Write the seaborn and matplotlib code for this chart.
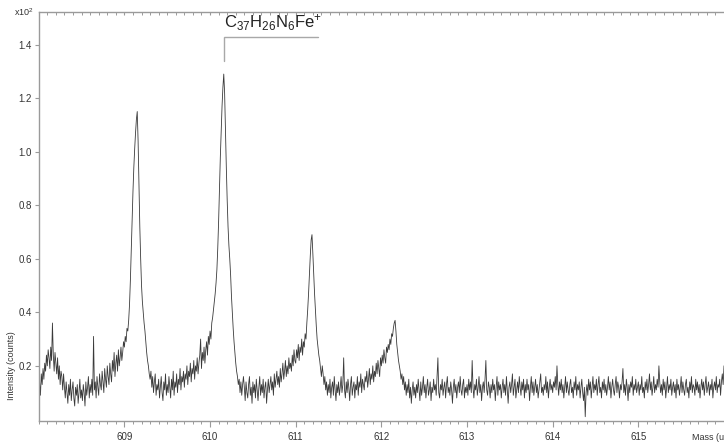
import numpy as np
import pandas as pd
import matplotlib
matplotlib.use("Agg")
import matplotlib.pyplot as plt
from matplotlib.ticker import MultipleLocator, FixedLocator, FuncFormatter
import seaborn as sns

# Spectrum sampling grid (u)
mass_start = 608.0
mass_step = 0.01

# Detector counts per mass unit, 100 channels each (x.00 ... x.99)
counts_608 = [
    11, 14, 9, 17, 13, 19, 15, 21, 18, 24,
    20, 26, 23, 19, 27, 22, 36, 24, 18, 25,
    21, 17, 23, 15, 20, 13, 18, 16, 11, 17,
    12, 8, 14, 10, 6, 13, 9, 15, 7, 11,
    14, 8, 5, 12, 9, 13, 6, 10, 15, 8,
    11, 7, 13, 10, 5, 14, 9, 12, 16, 8,
    13, 10, 15, 9, 31, 11, 14, 8, 16, 12,
    9, 17, 13, 11, 18, 14, 10, 19, 15, 12,
    20, 16, 13, 21, 17, 14, 22, 18, 25, 16,
    21, 24, 18, 26, 20, 23, 27, 22, 25, 29,
]
counts_609 = [
    27, 31, 29, 34, 33, 37, 43, 52, 63, 75,
    85, 94, 101, 107, 112, 115, 104, 88, 72, 60,
    50, 44, 40, 36, 33, 29, 25, 22, 20, 17,
    15, 18, 12, 16, 10, 14, 17, 9, 13, 11,
    15, 8, 12, 16, 10, 7, 14, 11, 17, 9,
    13, 10, 16, 12, 8, 15, 11, 18, 9, 14,
    12, 17, 10, 15, 13, 19, 11, 16, 14, 18,
    12, 17, 15, 20, 13, 18, 16, 21, 14, 19,
    17, 22, 15, 20, 18, 23, 17, 21, 24, 30,
    19, 25, 22, 27, 21, 26, 29, 24, 31, 28,
]
counts_610 = [
    33, 30, 36, 38, 41, 44, 47, 51, 56, 64,
    74, 86, 98, 108, 117, 124, 129, 122, 108, 94,
    82, 72, 65, 60, 54, 46, 40, 34, 29, 25,
    21, 18, 16, 13, 15, 10, 14, 9, 13, 16,
    12, 7, 14, 10, 8, 13, 16, 9, 12, 6,
    14, 10, 13, 8, 15, 11, 7, 12, 16, 9,
    13, 10, 15, 8, 12, 14, 6, 11, 15, 10,
    13, 16, 11, 14, 9, 17, 12, 15, 18, 13,
    16, 12, 19, 14, 17, 21, 15, 18, 22, 16,
    20, 17, 23, 19, 21, 18, 24, 20, 26, 22,
]
counts_611 = [
    21, 26, 23, 28, 22, 27, 25, 30, 24, 29,
    27, 32, 30, 36, 41, 47, 54, 61, 67, 69,
    62, 54, 47, 41, 35, 30, 27, 24, 22, 19,
    16, 20, 17, 13, 16, 11, 14, 9, 13, 10,
    15, 8, 12, 14, 9, 16, 11, 7, 13, 10,
    14, 9, 12, 16, 10, 13, 23, 11, 8, 14,
    10, 15, 12, 7, 13, 16, 9, 12, 14, 8,
    13, 11, 16, 9, 14, 12, 17, 10, 15, 13,
    11, 16, 14, 18, 12, 15, 19, 13, 17, 15,
    20, 14, 18, 16, 21, 17, 22, 19, 16, 23,
]
counts_612 = [
    20, 24, 21, 26, 23, 21, 27, 25, 28, 26,
    30, 28, 32, 31, 34, 36, 37, 33, 28, 25,
    22, 20, 18, 15, 17, 13, 16, 11, 14, 9,
    13, 10, 15, 8, 12, 6, 11, 14, 9, 12,
    8, 13, 10, 15, 11, 7, 14, 9, 12, 16,
    10, 13, 8, 12, 15, 9, 11, 14, 7, 12,
    10, 15, 11, 13, 9, 16, 23, 10, 8, 13,
    11, 15, 9, 12, 14, 8, 13, 16, 10, 12,
    9, 14, 11, 6, 12, 15, 10, 13, 8, 12,
    14, 10, 16, 11, 9, 13, 15, 8, 12, 10,
]
counts_613 = [
    13, 9, 15, 11, 14, 10, 22, 12, 8, 13,
    11, 15, 9, 12, 16, 10, 13, 7, 12, 14,
    10, 15, 22, 11, 9, 14, 12, 8, 13, 10,
    15, 11, 13, 7, 12, 16, 9, 14, 11, 13,
    8, 12, 15, 10, 13, 9, 16, 11, 6, 12,
    14, 10, 13, 17, 9, 12, 15, 8, 11, 14,
    10, 16, 12, 9, 14, 11, 15, 8, 13, 10,
    15, 11, 13, 7, 12, 16, 10, 14, 9, 12,
    15, 10, 13, 8, 11, 14, 17, 10, 12, 9,
    13, 11, 16, 10, 14, 8, 12, 15, 11, 13,
]
counts_614 = [
    10, 14, 12, 16, 11, 20, 13, 9, 14, 11,
    15, 10, 13, 8, 12, 16, 10, 14, 11, 9,
    13, 15, 10, 12, 8, 14, 11, 16, 9, 13,
    11, 14, 8, 12, 15, 10, 7, 12, 1, 10,
    13, 9, 15, 11, 14, 8, 12, 16, 10, 13,
    11, 15, 9, 13, 16, 10, 12, 8, 14, 11,
    15, 10, 13, 9, 12, 16, 11, 14, 8, 12,
    15, 11, 9, 13, 16, 10, 14, 12, 8, 13,
    11, 14, 19, 10, 13, 9, 15, 12, 7, 13,
    10, 14, 12, 16, 9, 13, 11, 15, 10, 12,
]
counts_615 = [
    14, 9, 13, 11, 16, 10, 12, 8, 14, 11,
    15, 10, 13, 17, 11, 14, 9, 12, 16, 10,
    13, 11, 15, 12, 20, 14, 10, 13, 9, 15,
    11, 14, 8, 12, 16, 10, 13, 11, 15, 9,
    12, 14, 10, 13, 8, 15, 11, 13, 9, 12,
    16, 10, 14, 11, 9, 13, 15, 10, 12, 8,
    14, 11, 16, 10, 13, 12, 9, 15, 11, 14,
    10, 13, 8, 12, 15, 11, 14, 9, 13, 16,
    10, 12, 14, 9, 13, 11, 15, 8, 12, 14,
    11, 16, 10, 13, 12, 15, 9, 14, 17, 13,
]
counts_616 = [20]

ion_label = r"C$_{37}$H$_{26}$N$_{6}$Fe$^{+}$"
x_ticks = [609, 610, 611, 612, 613, 614, 615]
y_ticks = [0.2, 0.4, 0.6, 0.8, 1.0, 1.2, 1.4]

counts = (counts_608 + counts_609 + counts_610 + counts_611 + counts_612
          + counts_613 + counts_614 + counts_615 + counts_616)
mass = mass_start + mass_step * np.arange(len(counts))
df = pd.DataFrame({"mass": mass, "intensity": np.array(counts) / 100.0})

sns.set_theme(style="white")
plt.rcParams["font.family"] = ["Liberation Sans", "DejaVu Sans"]
plt.rcParams["mathtext.fontset"] = "custom"
plt.rcParams["mathtext.rm"] = "Liberation Sans"
plt.rcParams["mathtext.it"] = "Liberation Sans"

fig = plt.figure(figsize=(7.24, 4.43), dpi=100)
ax = fig.add_axes([0.0535, 0.0497, 0.9465, 0.9221])

sns.lineplot(data=df, x="mass", y="intensity", ax=ax, estimator=None,
             color="#3a3a3a", linewidth=0.6)

ax.set_xlim(608.0, 616.0)
ax.set_ylim(-0.006, 1.52)
ax.set_xlabel("")
ax.set_ylabel("")

spine_col = "#9a9a9a"
for s in ["left", "bottom", "top"]:
    ax.spines[s].set_color(spine_col)
    ax.spines[s].set_linewidth(1.0)
ax.spines["right"].set_visible(False)

ax.xaxis.set_major_locator(FixedLocator(x_ticks))
ax.xaxis.set_minor_locator(MultipleLocator(0.1))
ax.yaxis.set_major_locator(FixedLocator(y_ticks))
ax.yaxis.set_major_formatter(FuncFormatter(lambda v, p: f"{v:.1f}"))

ax.tick_params(axis="x", which="major", bottom=True, top=True, direction="out",
               length=4, width=0.8, color=spine_col, labelsize=7,
               labelcolor="#333333", pad=4)
ax.tick_params(axis="x", which="minor", bottom=True, top=True, direction="out",
               length=2.5, width=0.7, color=spine_col)
ax.tick_params(axis="y", which="major", left=True, direction="out", length=3,
               width=0.8, color=spine_col, labelsize=7, labelcolor="#333333", pad=2)

# top edge ticks point inward
for t in ax.xaxis.get_major_ticks() + ax.xaxis.get_minor_ticks():
    t.tick2line.set_marker(3)
    t.tick2line.set_markersize(2.5)

fig.text(0.047, 0.972, r"x10$^{2}$", fontsize=6.5, color="#333333",
         ha="right", va="center")
fig.text(0.016, 0.175, "Intensity (counts)", fontsize=6.5, color="#333333",
         rotation=90, ha="center", va="center")
fig.text(0.956, 0.013, "Mass (u)", fontsize=6.5, color="#333333",
         ha="left", va="center")

# Label the base peak of the isotope cluster
peak = df.loc[df["intensity"].idxmax()]
bx0 = peak["mass"]
bx1 = bx0 + 1.1
ax.plot([bx0, bx0, bx1], [peak["intensity"] + 0.05, 1.43, 1.43],
        color="#a8a8a8", linewidth=1.0, solid_joinstyle="miter")
ax.text(bx0, 1.445, ion_label, fontsize=12, color="#222222",
        ha="left", va="bottom")

fig.savefig("out.png", dpi=100)
